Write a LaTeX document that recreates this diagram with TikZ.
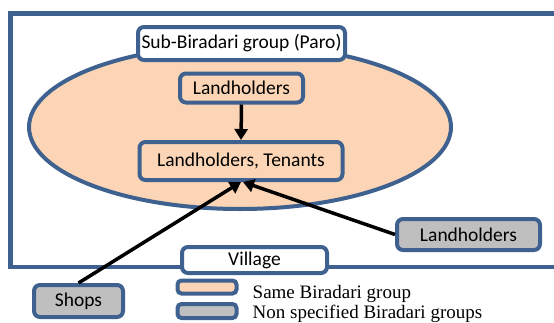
\documentclass[tikz,border=0pt]{standalone}
\usepackage{fontspec}
\setmainfont{Liberation Serif}
\newfontfamily\labelfont{Carlito}
\usetikzlibrary{arrows.meta}
\definecolor{rim}{HTML}{3E6190}
\definecolor{same}{HTML}{FBD5B5}
\definecolor{other}{HTML}{BFBFBF}
\tikzset{
  box/.style={draw=rim, line width=4pt, rounded corners=6pt, inner sep=0pt,
    font=\labelfont\fontsize{19.5}{22}\selectfont, text=black},
  link/.style={line width=3.5pt, draw=black,
    -{Triangle[length=11pt,width=13pt]}},
  legendtext/.style={anchor=base west, inner sep=0pt,
    font=\fontsize{19}{21}\selectfont},
}
\begin{document}
\begin{tikzpicture}[x=1pt,y=-1pt]
  \clip (0,0) rectangle (554,322);
  \fill[white] (0,0) rectangle (554,322);
  % village frame, open to the right
  \draw[rim, line width=4.5pt] (600,13.5) -- (10.5,13.5) -- (10.5,267) -- (600,267);
  % biradari group
  \draw[rim, line width=4pt, fill=same] (240,127) ellipse [x radius=211, y radius=82];
  \node[box, fill=white, minimum width=207pt, minimum height=33pt] (paro) at (241.5,43.5) {Sub-Biradari group (Paro)};
  \node[box, fill=same, minimum width=123pt, minimum height=29pt] (lhin) at (241.5,88) {Landholders};
  \node[box, fill=same, minimum width=203pt, minimum height=38pt] (ten) at (241,161) {Landholders, Tenants};
  \node[box, fill=other, minimum width=143pt, minimum height=31pt] (lhout) at (468.5,234.5) {Landholders};
  \node[box, fill=other, minimum width=89pt, minimum height=32pt] (shops) at (78.5,301) {Shops};
  \node[box, fill=white, minimum width=145pt, minimum height=26pt] (village) at (254.5,260) {\raisebox{-4pt}{Village}};
  % legend
  \node[box, fill=same, minimum width=59pt, minimum height=13pt, rounded corners=4pt] (keysame) at (207,287) {};
  \node[box, fill=other, minimum width=59pt, minimum height=14pt, rounded corners=4pt] (keyother) at (207,311) {};
  \node[legendtext] (txtsame) at (252.5,298) {Same Biradari group};
  \node[legendtext] (txtother) at (252.5,318) {Non specified Biradari groups};
  % ties
  \draw[link] (lhin.south) -- (ten.north);
  \draw[link] (shops.north) -- (ten.south);
  \draw[link] (lhout.west) -- ([xshift=2pt]ten.south);
\end{tikzpicture}
\end{document}
